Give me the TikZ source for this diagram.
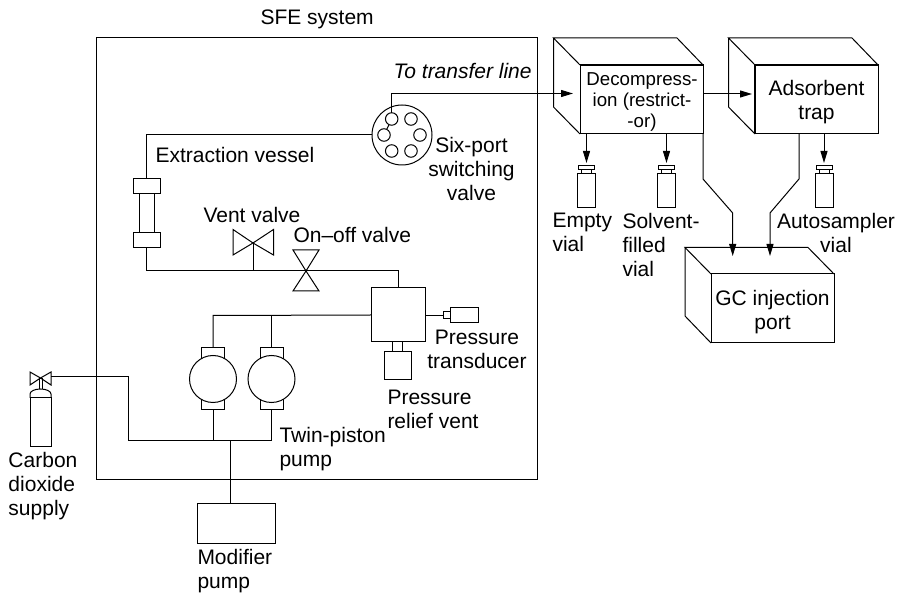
\documentclass[tikz,border=0pt]{standalone}
\usepackage{fontspec}
\setmainfont{Liberation Sans}
\usetikzlibrary{arrows.meta}
\begin{document}
\begin{tikzpicture}[x=1pt, y=-1pt, line width=1pt,
        >={Stealth[length=12pt, width=7pt, inset=0pt]},
        font=\fontsize{21}{24}\selectfont,
        boxnode/.style={rectangle, draw, inner sep=0pt, outer sep=0pt},
        pumpnode/.style={circle, draw, fill=white, minimum size=47pt, inner sep=0pt, outer sep=0pt},
        portnode/.style={circle, draw, minimum size=12.5pt, inner sep=0pt, outer sep=0pt},
        labelnode/.style={inner sep=0pt, align=left, anchor=north west},
        centrenode/.style={inner sep=0pt, align=center, anchor=north}]
        \useasboundingbox (0,0) rectangle (898,593);
        % ---- system frame ----
        \node[boxnode, minimum width=441pt, minimum height=442pt] (sfe) at (316.5,259) {};
        \node[labelnode] (sfelabel) at (260,9) {SFE system};
        % ---- cylinder and its valve ----
        \node[boxnode, minimum width=21pt, minimum height=49pt] (cylinder) at (40.5,422.5) {};
        \draw (cylinder.north west) -- ++(0,-4) arc[start angle=180, end angle=0, x radius=10.5pt, y radius=5pt] -- (cylinder.north east);
        \coordinate (gasvalve) at (40.5,378);
        \draw (gasvalve) -- (30,372) -- (30,385) -- cycle (gasvalve) -- (51,372) -- (51,385) -- cycle;
        \draw (39,378) -- (39,389) (42,378) -- (42,389);
        % ---- pumps ----
        \node[boxnode, minimum width=23pt, minimum height=62pt] (pumpcapa) at (213,379) {};
        \node[boxnode, minimum width=23pt, minimum height=62pt] (pumpcapb) at (271.5,379) {};
        \node[pumpnode] (pumpa) at (213,379) {};
        \node[pumpnode] (pumpb) at (271.5,379) {};
        \node[boxnode, minimum width=78pt, minimum height=40pt] (modifier) at (236,524) {};
        % ---- vessel ----
        \node[boxnode, minimum width=27pt, minimum height=15pt] (vesseltop) at (146.5,186) {};
        \node[boxnode, minimum width=27pt, minimum height=15pt] (vesselbot) at (146.5,240) {};
        \node[boxnode, minimum width=15pt, minimum height=39pt] (vessel) at (146.5,213.5) {};
        % ---- valves ----
        \coordinate (vent) at (253,243);
        \draw (vent) -- (233,229.5) -- (233,255) -- cycle (vent) -- (273.5,229.5) -- (273.5,255) -- cycle;
        \coordinate (onoff) at (306,271);
        \draw (onoff) -- (293,250) -- (319,250) -- cycle (onoff) -- (293,291) -- (319,291) -- cycle;
        % ---- manifold, transducer, relief ----
        \node[boxnode, minimum size=54pt] (block) at (398,315) {};
        \node[boxnode, minimum width=7pt, minimum height=7pt] (sensor) at (446.5,315.5) {};
        \node[boxnode, minimum width=28pt, minimum height=15pt] (transducer) at (464,315.5) {};
        \node[boxnode, minimum width=10pt, minimum height=10pt] (reliefneck) at (397.5,347) {};
        \node[boxnode, minimum width=27pt, minimum height=28pt] (relief) at (397.5,366) {};
        % ---- six-port valve ----
        \node[circle, draw, minimum size=60pt, inner sep=0pt, outer sep=0pt] (sixport) at (402,135) {};
        \node[portnode] (porta) at (391.7,119) {};
        \node[portnode] (portb) at (411,119) {};
        \node[portnode] (portc) at (384,135) {};
        \node[portnode] (portd) at (420,135) {};
        \node[portnode] (porte) at (391.7,151) {};
        \node[portnode] (portf) at (411,151) {};
        \draw (porta) -- (portc);
        % ---- boxes on the right ----
        \node[boxnode, minimum width=123pt, minimum height=69pt] (decomp) at (641.5,99.5) {};
        \draw (decomp.north west) -- (553.5,38) -- (677,38) -- (decomp.north east)
              (553.5,38) -- (553.5,107) -- (decomp.south west);
        \draw[line width=1.6pt] (decomp.north west) -- (decomp.north east);
        \node[boxnode, minimum width=123pt, minimum height=69pt] (trap) at (816.5,99.5) {};
        \draw (trap.north west) -- (728.5,38) -- (852,38) -- (trap.north east)
              (728.5,38) -- (728.5,107) -- (trap.south west);
        \draw[line width=1.6pt] (trap.north west) -- (trap.north east) (trap.north west) -- (trap.south west);
        \node[boxnode, minimum width=123pt, minimum height=69pt] (gcport) at (772.5,308.5) {};
        \draw (gcport.north west) -- (685,247.5) -- (808,247.5) -- (gcport.north east)
              (685,247.5) -- (685,316) -- (gcport.south west);
        % ---- vials ----
        \foreach \n/\x in {vialempty/586.5, vialsolvent/666.5, vialauto/824}{
          \node[boxnode, minimum width=18pt, minimum height=34pt] (\n) at (\x,191) {};
          \node[boxnode, minimum width=10pt, minimum height=4pt] (\n neck) at (\x,172) {};
          \node[boxnode, minimum width=16pt, minimum height=4pt] (\n cap) at (\x,168) {};
        }
        % ---- connectors ----
        \coordinate (gasjoin) at (128,441);
        \coordinate (teejoin) at (230.5,441);
        \coordinate (topjoin) at (213,315.5);
        \draw (51,376.5) -| (gasjoin) -- (271.5,441) -- (pumpcapb.south);
        \draw (213,441) -- (pumpcapa.south);
        \draw (teejoin) -- (230.5,504);
        \draw (pumpcapa.north) -- (topjoin) -- (block.west);
        \draw (271.5,315.5) -- (pumpcapb.north);
        \draw (sixport.west) -- (146.5,135) -- (vesseltop.north);
        \draw (vesselbot.south) -- (146.5,270.5) -- (398,270.5) -- (block.north);
        \draw (vent) -- (253,270.5);
        \draw (block.east |- 315.5,315.5) -- (sensor.west);
        \draw[->] (porta.north) -- (391.7,93.5) -- (573,93.5);
        \draw[->] (703,94) -- (752,94);
        \draw[->, shorten >=3pt] (586.5,134) -- (vialemptycap.north);
        \draw[->, shorten >=3pt] (666.5,134) -- (vialsolventcap.north);
        \draw[->, shorten >=3pt] (824,134) -- (vialautocap.north);
        \draw[->] (decomp.south east) -- (703,179) -- (732.7,213) -- (732.7,256);
        \draw[->] (799,134) -- (799,179) -- (770,213) -- (770,256);
        % ---- labels ----
        \node[labelnode] (carbon) at (8,452) {Carbon\\dioxide\\supply};
        \node[labelnode] (modlabel) at (197,548.5) {Modifier\\pump};
        \node[labelnode] (pumplabel) at (279,427) {Twin-piston\\pump};
        \node[labelnode] (vesselabel) at (155,146.5) {Extraction vessel};
        \node[labelnode] (ventlabel) at (203,207) {Vent valve};
        \node[labelnode] (onofflabel) at (293,227) {On--off valve};
        \node[centrenode] (sixlabel) at (471.5,137) {Six-port\\switching\\valve};
        \node[centrenode] (translabel) at (477,330) {Pressure\\transducer};
        \node[labelnode] (relieflabel) at (387,390) {Pressure\\relief vent};
        \node[labelnode] (transferlabel) at (393,63) {\itshape To transfer line};
        \node[centrenode, font=\fontsize{18.7}{21}\selectfont] (decomplabel) at (642,72.5) {Decompress-\\ion (restrict-\\-or)};
        \node[centrenode] (traplabel) at (816.5,80) {Adsorbent\\trap};
        \node[centrenode] (gclabel) at (772.5,290) {GC injection\\port};
        \node[labelnode] (emptylabel) at (552,213) {Empty\\vial};
        \node[labelnode] (solvlabel) at (622,213) {Solvent-\\filled\\vial};
        \node[centrenode] (autolabel) at (836,213) {Autosampler\\vial};
    \end{tikzpicture}
\end{document}
